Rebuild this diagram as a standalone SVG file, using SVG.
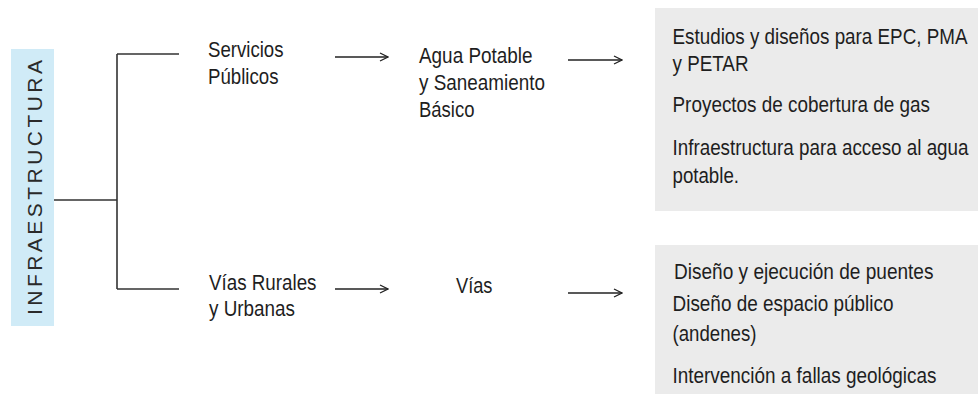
<svg xmlns="http://www.w3.org/2000/svg" width="978" height="394" viewBox="0 0 978 394">
<style>
  text { font-family: "Liberation Sans", Arial, sans-serif; font-size: 22px; fill: #1e1e1e; }
  .ln { stroke: #333; stroke-width: 1.6; fill: none; }
  .arr { stroke: #222; stroke-width: 1.3; fill: none; marker-end: url(#ah); }
  .panel { fill: #ebebeb; }
</style>
<defs>
  <marker id="ah" viewBox="0 0 10 10" refX="9" refY="5" markerWidth="10" markerHeight="10" markerUnits="userSpaceOnUse" orient="auto">
    <path d="M1,1 L9,5 L1,9" fill="none" stroke="#222" stroke-width="1.3"/>
  </marker>
</defs>
<rect width="978" height="394" fill="#ffffff"/>

<g id="infraestructura">
  <rect x="11" y="49" width="43" height="277" fill="#d0ebf7"/>
  <text transform="translate(42,315) rotate(-90)" x="0" y="0" textLength="255" lengthAdjust="spacing" style="fill:#2a2a2a;font-size:21px">INFRAESTRUCTURA</text>
</g>

<g id="connectors">
  <path class="ln" d="M54,200 H117 M117,54 V289 M117,54 H179 M117,289 H179"/>
  <line class="arr" x1="335" y1="57" x2="388" y2="57"/>
  <line class="arr" x1="568" y1="60" x2="622" y2="60"/>
  <line class="arr" x1="335" y1="289" x2="388" y2="289"/>
  <line class="arr" x1="568" y1="293" x2="622" y2="293"/>
</g>

<g id="servicios-publicos">
  <text x="208" y="57" textLength="75.5" lengthAdjust="spacingAndGlyphs">Servicios</text>
  <text x="208" y="83.5" textLength="70.5" lengthAdjust="spacingAndGlyphs">Públicos</text>
</g>

<g id="vias-rurales-urbanas">
  <text x="209" y="289.5" textLength="107.5" lengthAdjust="spacingAndGlyphs">Vías Rurales</text>
  <text x="209" y="315.5" textLength="86" lengthAdjust="spacingAndGlyphs">y Urbanas</text>
</g>

<g id="agua-potable">
  <text x="419" y="63" textLength="113.5" lengthAdjust="spacingAndGlyphs">Agua Potable</text>
  <text x="419" y="90" textLength="126" lengthAdjust="spacingAndGlyphs">y Saneamiento</text>
  <text x="419" y="117" textLength="55.5" lengthAdjust="spacingAndGlyphs">Básico</text>
</g>

<g id="vias">
  <text x="456" y="293" textLength="36.5" lengthAdjust="spacingAndGlyphs">Vías</text>
</g>

<g id="panel-servicios">
  <rect class="panel" x="655" y="8" width="323" height="203"/>
  <text x="672.5" y="43.5" textLength="295" lengthAdjust="spacingAndGlyphs">Estudios y diseños para EPC, PMA</text>
  <text x="672.5" y="71" textLength="76" lengthAdjust="spacingAndGlyphs">y PETAR</text>
  <text x="672.5" y="111.5" textLength="257.5" lengthAdjust="spacingAndGlyphs">Proyectos de cobertura de gas</text>
  <text x="672.5" y="155" textLength="296" lengthAdjust="spacingAndGlyphs">Infraestructura para acceso al agua</text>
  <text x="672.5" y="183" textLength="66.5" lengthAdjust="spacingAndGlyphs">potable.</text>
</g>

<g id="panel-vias">
  <rect class="panel" x="655" y="245" width="323" height="149"/>
  <text x="674" y="278.5" textLength="259.5" lengthAdjust="spacingAndGlyphs">Diseño y ejecución de puentes</text>
  <text x="672.5" y="311" textLength="221" lengthAdjust="spacingAndGlyphs">Diseño de espacio público</text>
  <text x="672.5" y="341" textLength="84" lengthAdjust="spacingAndGlyphs">(andenes)</text>
  <text x="672.5" y="382.5" textLength="264" lengthAdjust="spacingAndGlyphs">Intervención a fallas geológicas</text>
</g>
</svg>
